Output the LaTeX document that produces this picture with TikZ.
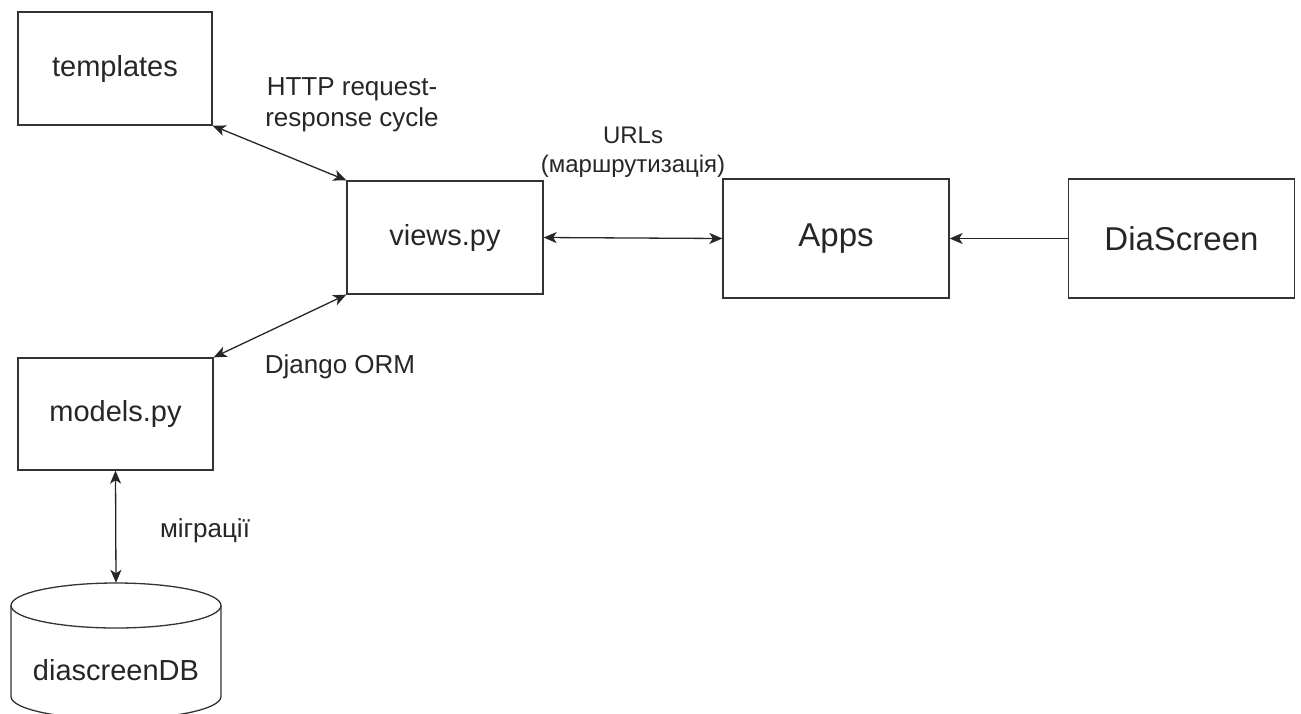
\documentclass[tikz,border=0pt]{standalone}
\usepackage{fontspec}
\setmainfont{Liberation Sans}
\usepackage{tikz}
\usetikzlibrary{arrows.meta}
\newcommand{\boxline}{1.3pt}
\newcommand{\bigfont}{\fontsize{29}{34}\selectfont}
\newcommand{\appfont}{\fontsize{33}{38}\selectfont}
\newcommand{\capr}{22.5}

\begin{document}
\begin{tikzpicture}[x=1pt,y=-1pt]
            \begin{scope}
                %\draw[help lines] (0,0) grid (1301,713);
                \useasboundingbox (0,0) rectangle (1301,713);
                \tikzset{>={Stealth[length=13pt,width=11pt,inset=3.5pt]}}
                \tikzset{box/.style = {draw=black!80, line width=\boxline, inner sep=0pt, text=black!85}}
                \tikzset{lbl/.style = {text=black!85, align=center, inner sep=0pt, font=\fontsize{26}{31}\selectfont}}
                \tikzset{link/.style = {draw=black!85, line width=\boxline}}
                    \foreach \n/\x/\y/\w/\h/\t in {templates/115/68.5/194/113/templates,
                                                    views/445/237.5/196/113/views.py,
                                                    models/115.5/414/195/112/models.py} {
                        \node[box, minimum width=\w, minimum height=\h, font=\bigfont] (\n) at (\x,\y) {\t};
                    }
                    \foreach \n/\x/\t in {apps/836/Apps, diascreen/1181.5/DiaScreen} {
                        \node[box, minimum width=226, minimum height=119, font=\appfont] (\n) at (\x,238.5) {\t};
                    }
                    % database drum
                    \node[inner sep=0pt, minimum width=210, minimum height=136] (db) at (116,651) {};
                    \draw[box] (116,583+\capr) ellipse [x radius=105, y radius=\capr];
                    \draw[box] (11,583+\capr) -- (11,719-\capr)
                        arc [start angle=180, end angle=0, x radius=105, y radius=\capr] -- (221,583+\capr);
                    \node[text=black!85, font=\bigfont, inner sep=0pt] (dbtext) at (116,670) {diascreenDB};
                    \draw[link, <->] (templates.south east) -- (views.north west);
                    \draw[link, <->] (views.south west) -- (models.north east);
                    \draw[link, <->] (views.east) -- (apps.west);
                    \draw[link, ->] (diascreen.west) -- (apps.east);
                    \draw[link, <->] (models.south) -- (db.north);
                    \node[lbl] (http) at (352,105) {HTTP request-\\response cycle};
                    \node[lbl, font=\fontsize{24}{29}\selectfont] (urls) at (633,152) {URLs\\(маршрутизація)};
                    \node[lbl] (orm) at (340,367) {Django ORM};
                    \node[lbl] (migr) at (205,531) {міграції};
            \end{scope}
        \end{tikzpicture}
\end{document}
